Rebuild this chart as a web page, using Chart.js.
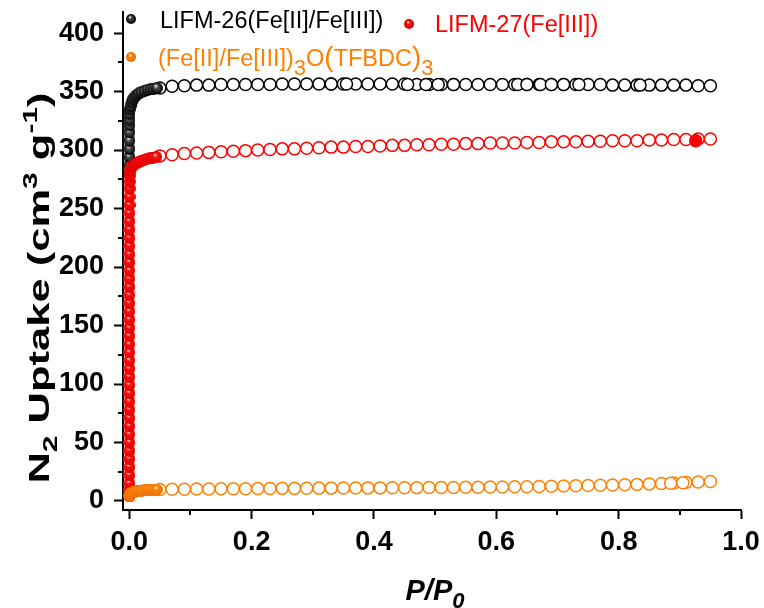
<!DOCTYPE html>
<html lang="en">
<head>
<meta charset="UTF-8" />
<title>N2 isotherms</title>
<script src="https://cdn.jsdelivr.net/npm/chart.js"></script>
<style>
  body { margin: 0; background: #fff; }
</style>
</head>
<body>
<canvas id="isoChart" width="764" height="608"></canvas>
<script>
// relative pressure of the open-circle points (shared by the three curves)
const plateauP = [0.05,0.07,0.09,0.11,0.13,0.15,0.17,0.19,0.21,0.23,
                  0.25,0.27,0.29,0.31,0.33,0.35,0.37,0.39,0.41,0.43,
                  0.45,0.47,0.49,0.51,0.53,0.55,0.57,0.59,0.61,0.63,
                  0.65,0.67,0.69,0.71,0.73,0.75,0.77,0.79,0.81,0.83,
                  0.85,0.87,0.89,0.91,0.93,0.95];

// LIFM-26(Fe[II]/Fe[III])
const lifm26LowP = [0.0002,0.0002,0.0002,0.0002,0.0002,0.0002,0.0002,0.0002,0.0002,
                    0.001,0.002,0.004,0.006,0.009,0.012,0.016,0.020,0.025,0.030,0.035,0.040,0.045];
const lifm26LowQ = [280,287,294,301,308,315,321,326,331,
                    335,338,341,343.5,345.5,347,348.5,349.5,350.5,351.5,352,352.5,353];
const lifm26Q = [353,354.5,355,355.5,355.5,356,356,356,356,356,
                 356.5,356.5,356.5,356.5,356.5,356.5,356.5,356.5,356.5,356.5,
                 356.5,356,356,356,356,356,356,356,356,356,
                 356,356,356,356,356,356,356,355.5,355.5,355.5,
                 355.5,355.5,355.5,355.5,355,355];
const lifm26DesP = [0.33,0.355,0.455,0.485,0.505,0.53,0.635,0.65,0.672,0.69,0.71,0.735,0.835];
const lifm26DesQ = [356.5,356.5,356,356,356,356,356,356,356,356,356,356,355.5];

// LIFM-27(Fe[III])
const lifm27LowP = [0.0002,0.0002,0.0002,0.0002,0.0002,0.0002,0.0002,0.0002,0.0002,0.0002,
                    0.0002,0.0002,0.0002,0.0002,0.0002,0.0002,0.0002,0.0002,0.0002,0.0002,
                    0.0002,0.0002,0.0002,0.0002,0.0002,0.0002,0.0002,0.0002,0.0002,0.0002,
                    0.0003,0.0003,0.0003,0.0003,0.0003,0.0003,0.0004,0.0004,0.0005,0.0006,0.0008,
                    0.0015,0.003,0.005,0.008,0.011,0.015,0.019,0.024,0.029,0.034,0.039,0.044];
const lifm27LowQ = [4,9,15,22,29,36,43,50,57,64,
                    71,78,85,92,99,106,113,120,127,134,
                    141,148,155,162,169,176,183,190,197,204,
                    211,218,225,232,239,246,253,260,267,273,278,
                    282,284.5,286,287.5,288.5,289.5,290.5,291.5,292.5,293,293.5,294];
const lifm27Q = [295,296,297,297.5,298,298.5,299,299.5,300,300.5,
                 301,301,301.5,302,302.5,302.5,303,303,303.5,304,
                 304,304.5,304.5,305,305,305.5,305.5,306,306,306,
                 306.5,306.5,307,307,307,307.5,307.5,308,308,308,
                 308.5,308.5,309,309,309.5,309.5];
const lifm27DesP = [0.926];
const lifm27DesQ = [308];

// (Fe[II]/Fe[III])3O(TFBDC)3
const tfbdcLowP = [0.0003,0.001,0.002,0.004,0.006,0.009,0.012,0.016,0.020,0.025,0.030,0.035,0.040,0.045];
const tfbdcLowQ = [4.5,5.5,6.3,7,7.5,8,8.3,8.6,8.9,9.1,9.3,9.5,9.6,9.7];
const tfbdcQ = [9.8,10,10.1,10.2,10.3,10.4,10.5,10.5,10.6,10.7,
                10.8,10.8,10.9,11,11,11.1,11.1,11.2,11.2,11.3,
                11.3,11.4,11.5,11.5,11.6,11.7,11.8,11.9,12,12.1,
                12.2,12.4,12.6,12.8,13,13.2,13.4,13.6,13.9,14.2,
                14.6,15,15.4,15.8,16.2,16.6];
const tfbdcDesP = [0.885,0.905];
const tfbdcDesQ = [15.2,15.6];

const xTicks = [0, 0.2, 0.4, 0.6, 0.8, 1.0];
const xMinor = [0.1, 0.3, 0.5, 0.7, 0.9];
const yTicks = [0, 50, 100, 150, 200, 250, 300, 350, 400];
const yMinor = [25, 75, 125, 175, 225, 275, 325, 375];

const BLACK = "#000000", RED = "#ff0000", ORANGE = "#ff8000";
const FONT = "'Liberation Sans', Arial, sans-serif";

function pts(px, qy) {
  return px.map((p, i) => ({ x: p, y: qy[i] }));
}

// little shaded ball used for the dense low-pressure points and the legend
function sphere(color, dark, r) {
  const c = document.createElement("canvas");
  c.width = c.height = r * 2;
  const g = c.getContext("2d");
  const grad = g.createRadialGradient(r * 0.8, r * 0.6, r * 0.05, r, r, r);
  grad.addColorStop(0, "#ffffff");
  grad.addColorStop(0.3, color);
  grad.addColorStop(1, dark);
  g.fillStyle = grad;
  g.beginPath();
  g.arc(r, r, r, 0, Math.PI * 2);
  g.fill();
  return c;
}

const ballBlack = sphere("#555555", "#000000", 6);
const ballRed = sphere("#ff1010", "#e00000", 6);
const ballOrange = sphere("#ff8a10", "#f07000", 6);
const keyBlack = sphere("#444444", "#000000", 5);
const keyRed = sphere("#ff1010", "#d00000", 5);
const keyOrange = sphere("#ff8a10", "#e06a00", 5);

function openSet(data, color) {
  return {
    data: data,
    showLine: false,
    pointStyle: "circle",
    pointRadius: 6,
    pointBorderWidth: 1.5,
    pointBackgroundColor: "#ffffff",
    pointBorderColor: color,
  };
}

function ballSet(data, img) {
  return { data: data, showLine: false, pointStyle: img, pointRadius: 6 };
}

function filledSet(data, color) {
  return {
    data: data,
    showLine: false,
    pointStyle: "circle",
    pointRadius: 6,
    pointBorderWidth: 1.5,
    pointBackgroundColor: color,
    pointBorderColor: color,
  };
}

// text with sub/superscripts, laid out left to right
function richText(ctx, parts, x, y, align) {
  let total = 0;
  parts.forEach((p) => {
    ctx.font = p.font;
    p.w = ctx.measureText(p.t).width;
    total += p.w;
  });
  let cx = align === "center" ? x - total / 2 : x;
  parts.forEach((p) => {
    ctx.font = p.font;
    ctx.fillText(p.t, cx, y + (p.dy || 0));
    cx += p.w;
  });
}

const decorations = {
  id: "decorations",
  afterDraw(chart) {
    const ctx = chart.ctx;
    const xs = chart.scales.x, ys = chart.scales.y;
    const area = chart.chartArea;
    ctx.save();
    ctx.strokeStyle = "#000";
    ctx.lineWidth = 2;
    ctx.beginPath();
    yMinor.forEach((v) => {
      const py = Math.round(ys.getPixelForValue(v));
      ctx.moveTo(area.left, py);
      ctx.lineTo(area.left - 5, py);
    });
    xMinor.forEach((v) => {
      const px = Math.round(xs.getPixelForValue(v));
      ctx.moveTo(px, area.bottom);
      ctx.lineTo(px, area.bottom + 5);
    });
    ctx.stroke();

    // y title
    ctx.fillStyle = "#000";
    ctx.textBaseline = "alphabetic";
    ctx.textAlign = "left";
    ctx.save();
    ctx.translate(49, 288);
    ctx.rotate(-Math.PI / 2);
    ctx.scale(1.5, 1);
    const b = "bold 29px " + FONT, s = "bold 20px " + FONT;
    richText(ctx, [
      { t: "N", font: b },
      { t: "2", font: s, dy: 8 },
      { t: " Uptake (cm", font: b },
      { t: "3", font: s, dy: -12 },
      { t: " g", font: b },
      { t: "-1", font: s, dy: -12 },
      { t: ")", font: b },
    ], 0, 0, "center");
    ctx.restore();

    // x title
    richText(ctx, [
      { t: "P/P", font: "italic bold 29px " + FONT },
      { t: "0", font: "italic bold 22px " + FONT, dy: 8 },
    ], 435, 600, "center");

    // legend
    ctx.drawImage(keyBlack, 126, 14);
    ctx.drawImage(keyRed, 404, 19);
    ctx.drawImage(keyOrange, 126, 52);
    const lf = "23.5px " + FONT, lsub = "22px " + FONT, lbig = "28px " + FONT;
    ctx.fillStyle = BLACK;
    richText(ctx, [{ t: "LIFM-26(Fe[II]/Fe[III])", font: lf }], 160, 28);
    ctx.fillStyle = RED;
    richText(ctx, [{ t: "LIFM-27(Fe[III])", font: lf }], 435, 32);
    ctx.fillStyle = ORANGE;
    richText(ctx, [
      { t: "(Fe[II]/Fe[III])", font: lf },
      { t: "3", font: lsub, dy: 9 },
      { t: "O", font: lf },
      { t: "(", font: lbig },
      { t: "TFBDC", font: lf },
      { t: ")", font: lbig },
      { t: "3", font: lsub, dy: 9 },
    ], 158, 66);
    ctx.restore();
  },
};

const tickFont = { family: FONT, size: 27, weight: "bold" };

new Chart(document.getElementById("isoChart"), {
  type: "scatter",
  data: {
    datasets: [
      ballSet(pts(tfbdcLowP, tfbdcLowQ), ballOrange),
      openSet(pts(tfbdcDesP, tfbdcDesQ), ORANGE),
      openSet(pts(plateauP, tfbdcQ), ORANGE),
      ballSet(pts(lifm27LowP, lifm27LowQ), ballRed),
      filledSet(pts(lifm27DesP, lifm27DesQ), RED),
      openSet(pts(plateauP, lifm27Q), RED),
      ballSet(pts(lifm26LowP, lifm26LowQ), ballBlack),
      openSet(pts(lifm26DesP, lifm26DesQ), BLACK),
      openSet(pts(plateauP, lifm26Q), BLACK),
    ],
  },
  options: {
    responsive: false,
    animation: false,
    layout: { padding: { top: 12, right: 23, left: 0, bottom: 0 } },
    plugins: { legend: { display: false }, tooltip: { enabled: false } },
    scales: {
      x: {
        type: "linear",
        min: -0.0103,
        max: 1.0,
        afterBuildTicks: (s) => { s.ticks = xTicks.map((v) => ({ value: v })); },
        afterFit: (s) => { s.height = 98; s.paddingLeft = 0; s.paddingRight = 0; },
        ticks: { font: tickFont, color: "#000", padding: 7, maxRotation: 0,
                 callback: (v) => v.toFixed(1) },
        grid: { drawOnChartArea: false, tickLength: 9, tickWidth: 2, tickColor: "#000" },
        border: { color: "#000", width: 2 },
      },
      y: {
        min: -7.7,
        max: 418,
        afterBuildTicks: (s) => { s.ticks = yTicks.map((v) => ({ value: v })); },
        afterFit: (s) => { s.width = 123; s.paddingTop = 0; s.paddingBottom = 0; },
        ticks: { font: tickFont, color: "#000", padding: 10 },
        grid: { drawOnChartArea: false, tickLength: 9, tickWidth: 2, tickColor: "#000" },
        border: { color: "#000", width: 2 },
      },
    },
  },
  plugins: [decorations],
});
</script>
</body>
</html>
